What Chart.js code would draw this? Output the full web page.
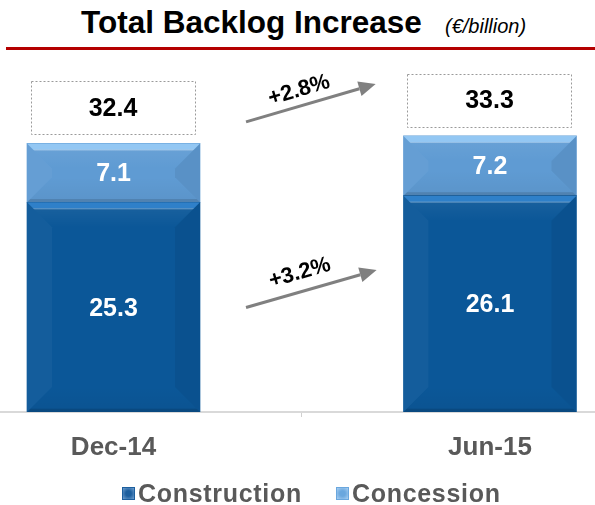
<!DOCTYPE html>
<html>
<head>
<meta charset="utf-8">
<script src="https://cdn.jsdelivr.net/npm/chart.js@4.4.1/dist/chart.umd.min.js"></script>
<style>
  body { margin: 0; background: #fff; width: 595px; height: 505px; overflow: hidden; position: relative; font-family: "Liberation Sans", Arial, sans-serif; }
  #title { position: absolute; left: 81px; top: 4px; font-size: 31.5px; font-weight: bold; color: #000; white-space: nowrap; }
  #unit { position: absolute; left: 445px; top: 15px; font-size: 20px; font-style: italic; color: #000; white-space: nowrap; }
  #rule { position: absolute; left: 6px; top: 47px; width: 589px; height: 3px; background: #b40000; }
  #chart { position: absolute; left: 0; top: 50px; }
  #legend { position: absolute; left: 122px; top: 478px; display: flex; align-items: center; font-size: 25px; font-weight: bold; letter-spacing: 0.7px; color: #595959; line-height: 30px; white-space: nowrap; }
  #legend span.box { display: inline-block; width: 13px; height: 13px; margin-right: 3px; box-sizing: border-box; }
  #legend span.item { display: inline-flex; align-items: center; margin-right: 34px; }
</style>
</head>
<body>
<div id="title">Total Backlog Increase</div>
<div id="unit">(€/billion)</div>
<div id="rule"></div>
<canvas id="chart" width="595" height="455"></canvas>
<div id="legend"></div>
<script>
const categories = ["Dec-14", "Jun-15"];
const seriesNames = ["Construction", "Concession"];
const construction = [25.3, 26.1];
const concession = [7.1, 7.2];

const FONT = "'Liberation Sans', Arial, sans-serif";
const colors = {
  Construction: { fill: "#0b5798", top: "#2f80c9", box: "#1d5f9e", edge: "#6f9fd0" },
  Concession: { fill: "#5f9bd3", top: "#93c7f3", box: "#6aa7de", edge: "#a9cff2" },
};

const totals = categories.map((c, i) => +(construction[i] + concession[i]).toFixed(1));
const growth = (a, b) => "+" + ((b / a - 1) * 100).toFixed(1) + "%";

// arrows between the two dates, given in axis units
const arrows = [
  { from: [0.352, 35.0], to: [0.6965, 39.57], text: growth(totals[0], totals[1]), at: [0.493, 38.8] },
  { from: [0.352, 12.6], to: [0.699, 17.13], text: growth(construction[0], construction[1]), at: [0.495, 16.77] },
];

function poly(ctx, pts, fill) {
  ctx.beginPath();
  ctx.moveTo(pts[0][0], pts[0][1]);
  pts.slice(1).forEach((p) => ctx.lineTo(p[0], p[1]));
  ctx.closePath();
  ctx.fillStyle = fill;
  ctx.fill();
}

// bevelled look of each bar segment
function bevel(ctx, el, c) {
  const L = el.x - el.width / 2, R = el.x + el.width / 2;
  const T = Math.min(el.y, el.base), B = Math.max(el.y, el.base);
  const d = Math.min(25, (B - T) / 2);
  poly(ctx, [[L, T], [L + d, T + d], [L + d, B - d], [L, B]], "rgba(255,255,255,0.04)");
  poly(ctx, [[R, T], [R - d, T + d], [R - d, B - d], [R, B]], "rgba(0,0,0,0.06)");
  const g = ctx.createLinearGradient(0, T, 0, T + d);
  g.addColorStop(0, c.top);
  g.addColorStop(0.22, c.top);
  g.addColorStop(0.3, "rgba(255,255,255,0.05)");
  g.addColorStop(1, "rgba(255,255,255,0)");
  poly(ctx, [[L, T], [R, T], [R - d, T + d], [L + d, T + d]], g);
  const g2 = ctx.createLinearGradient(0, B - d, 0, B);
  g2.addColorStop(0, "rgba(0,0,0,0)");
  g2.addColorStop(0.85, "rgba(0,0,0,0.04)");
  g2.addColorStop(0.88, "rgba(0,0,0,0.16)");
  g2.addColorStop(1, "rgba(0,0,0,0.16)");
  poly(ctx, [[L, B], [R, B], [R - d, B - d], [L + d, B - d]], g2);
}

function arrow(ctx, x0, y0, x1, y1) {
  const a = Math.atan2(y1 - y0, x1 - x0), h = 17, w = 7.5;
  const bx = x1 - h * Math.cos(a), by = y1 - h * Math.sin(a);
  ctx.strokeStyle = "#808080";
  ctx.fillStyle = "#808080";
  ctx.lineWidth = 3;
  ctx.beginPath();
  ctx.moveTo(x0, y0);
  ctx.lineTo(bx, by);
  ctx.stroke();
  ctx.beginPath();
  ctx.moveTo(x1, y1);
  ctx.lineTo(bx + w * Math.sin(a), by - w * Math.cos(a));
  ctx.lineTo(bx - w * Math.sin(a), by + w * Math.cos(a));
  ctx.closePath();
  ctx.fill();
}

const decorations = {
  id: "decorations",
  afterDatasetsDraw(chart) {
    const ctx = chart.ctx;
    const xs = chart.scales.x, ys = chart.scales.y;
    ctx.save();
    chart.data.datasets.forEach((ds, di) => {
      chart.getDatasetMeta(di).data.forEach((el, i) => {
        bevel(ctx, el, colors[ds.label]);
        ctx.fillStyle = "#fff";
        ctx.font = "bold 25px " + FONT;
        ctx.textAlign = "center";
        ctx.textBaseline = "middle";
        ctx.fillText(ds.data[i].y.toFixed(1), el.x, (el.y + el.base) / 2 + 1.5);
      });
    });

    // total boxes above each bar
    const meta = chart.getDatasetMeta(1);
    totals.forEach((t, i) => {
      const el = meta.data[i];
      const top = ys.getPixelForValue(t);
      const L = el.x - el.width / 2 + 4, R = el.x + el.width / 2 - 5;
      const bottom = top - 9, boxTop = bottom - 53;
      ctx.setLineDash([2, 2]);
      ctx.strokeStyle = "#9a9a9a";
      ctx.lineWidth = 1;
      ctx.strokeRect(Math.round(L) + 0.5, Math.round(boxTop) + 0.5, Math.round(R - L), Math.round(bottom - boxTop));
      ctx.setLineDash([]);
      ctx.fillStyle = "#000";
      ctx.font = "bold 25px " + FONT;
      ctx.textAlign = "center";
      ctx.textBaseline = "middle";
      ctx.fillText(t.toFixed(1), (L + R) / 2, (boxTop + bottom) / 2 + 1);
    });

    arrows.forEach((a) => {
      const x0 = xs.getPixelForValue(a.from[0]), y0 = ys.getPixelForValue(a.from[1]);
      const x1 = xs.getPixelForValue(a.to[0]), y1 = ys.getPixelForValue(a.to[1]);
      arrow(ctx, x0, y0, x1, y1);
      ctx.save();
      ctx.translate(xs.getPixelForValue(a.at[0]), ys.getPixelForValue(a.at[1]));
      ctx.rotate(Math.atan2(y1 - y0, x1 - x0));
      ctx.fillStyle = "#000";
      ctx.font = "bold 22px " + FONT;
      ctx.textAlign = "center";
      ctx.textBaseline = "middle";
      ctx.fillText(a.text, 0, 0);
      ctx.restore();
    });
    ctx.restore();
  },
};

new Chart(document.getElementById("chart"), {
  type: "bar",
  data: {
    datasets: [
      {
        label: seriesNames[0],
        data: categories.map((c, i) => ({ x: i, y: construction[i] })),
        backgroundColor: colors.Construction.fill,
        barThickness: 173,
      },
      {
        label: seriesNames[1],
        data: categories.map((c, i) => ({ x: i, y: concession[i] })),
        backgroundColor: colors.Concession.fill,
        barThickness: 173,
      },
    ],
  },
  options: {
    responsive: false,
    animation: false,
    layout: { padding: { top: 30.4, left: 0, right: 0, bottom: 0 } },
    plugins: { legend: { display: false }, tooltip: { enabled: false } },
    scales: {
      x: {
        type: "linear",
        stacked: true,
        offset: false,
        min: -0.3015,
        max: 1.279,
        afterBuildTicks: (s) => {
          s.ticks = [0, 0.5, 1].map((v) => ({ value: v }));
        },
        afterFit: (s) => {
          s.height = 93;
        },
        ticks: {
          callback: (v) => categories[v] ?? "",
          font: { family: FONT, size: 26, weight: "bold" },
          color: "#595959",
          padding: 15,
          maxRotation: 0,
          autoSkip: false,
        },
        grid: {
          offset: false,
          drawOnChartArea: false,
          tickLength: 5,
          color: (c) => (c.tick && c.tick.value === 0.5 ? "#d0d0d0" : "rgba(0,0,0,0)"),
        },
        border: { color: "#d9d9d9", width: 2 },
      },
      y: { stacked: true, min: 0, max: 40, display: false },
    },
  },
  plugins: [decorations],
});

// legend below the axis
const legend = document.getElementById("legend");
seriesNames.forEach((name) => {
  const c = colors[name];
  const item = document.createElement("span");
  item.className = "item";
  const box = document.createElement("span");
  box.className = "box";
  box.style.background = `radial-gradient(circle, ${c.box} 35%, ${c.edge} 100%)`;
  box.style.border = `1px solid ${c.box}`;
  item.appendChild(box);
  item.appendChild(document.createTextNode(name));
  legend.appendChild(item);
});
</script>
</body>
</html>
